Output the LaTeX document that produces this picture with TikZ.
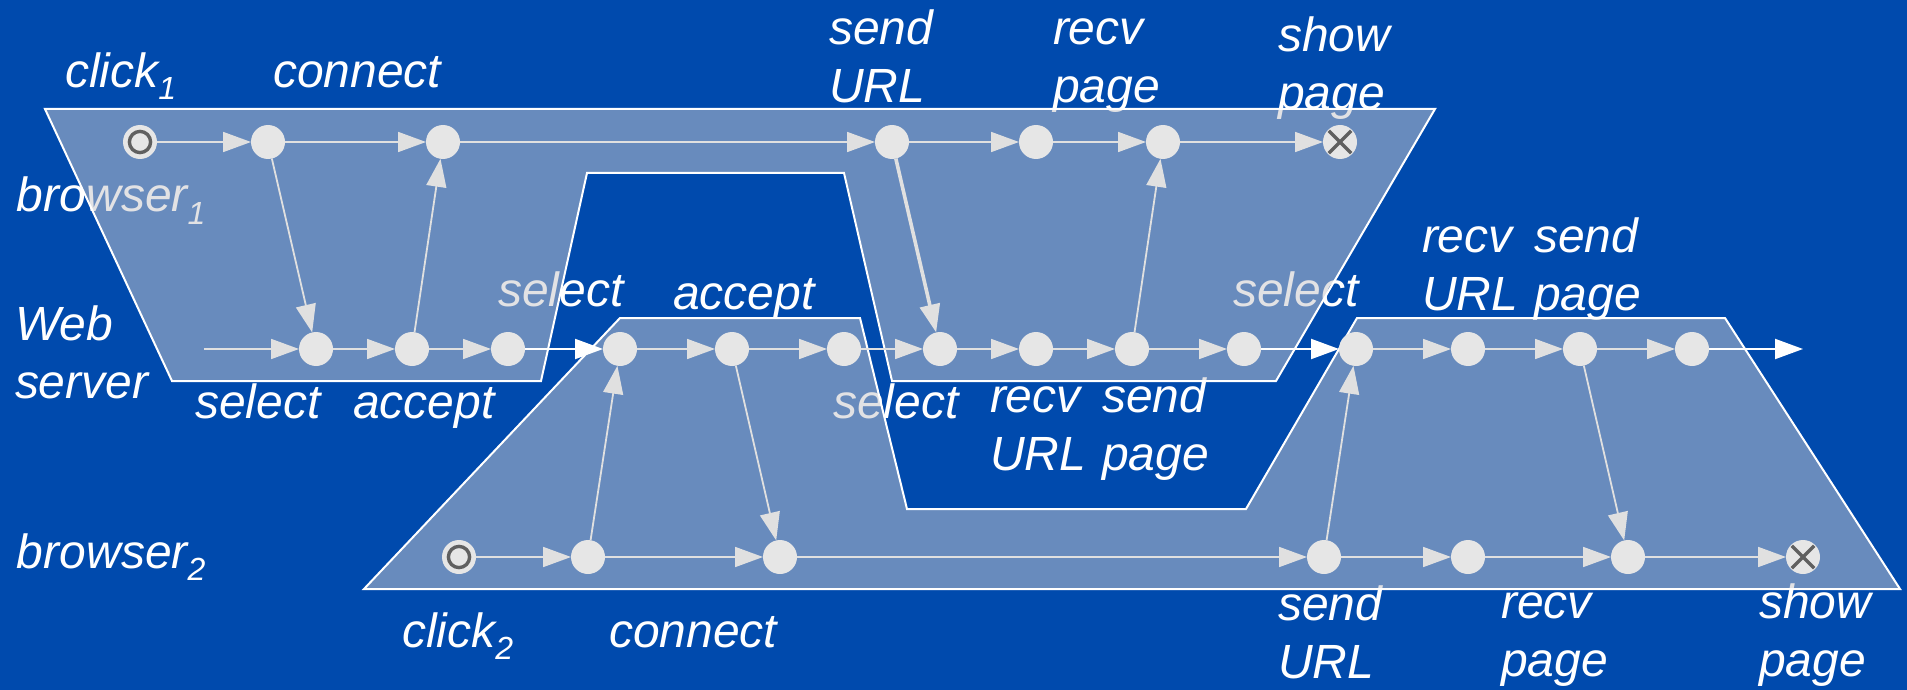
\documentclass[tikz,border=0pt]{standalone}
\usepackage{fontspec}
\setmainfont{Liberation Sans}
\usetikzlibrary{arrows.meta}
\definecolor{bg}{RGB}{0,74,173}
\definecolor{regfill}{RGB}{200,200,205}
\definecolor{nodefill}{RGB}{230,230,230}
\definecolor{edgecol}{RGB}{224,224,224}
\definecolor{markcol}{RGB}{96,96,96}
\newcommand\lowsub[1]{\raisebox{-6pt}{\fontsize{16}{16}\selectfont #1}}
\begin{document}
\begin{tikzpicture}[x=0.5pt,y=-0.5pt,
  lbl/.style={text=white, font=\fontsize{24}{29}\selectfont\itshape, anchor=base west, inner sep=0pt, outer sep=0pt, align=left},
  region/.style={draw=white, line width=1pt, fill=regfill, fill opacity=0.52},
  ev/.style={circle, fill=nodefill, minimum size=17pt, inner sep=0pt, outer sep=0pt},
  startev/.style={ev, path picture={\draw[markcol, line width=1.7pt] (path picture bounding box.center) circle (5.3pt);}},
  endev/.style={ev, path picture={\draw[markcol, line width=1.7pt]
      ([shift={(-5.6pt,-5.6pt)}]path picture bounding box.center) -- ([shift={(5.6pt,5.6pt)}]path picture bounding box.center)
      ([shift={(-5.6pt,5.6pt)}]path picture bounding box.center) -- ([shift={(5.6pt,-5.6pt)}]path picture bounding box.center);}},
  msg/.style={draw=edgecol, line width=0.9pt, -{Triangle[length=14pt,width=10pt]}},
  bigmsg/.style={msg, line width=1.8pt},
  hand/.style={draw=white, line width=1pt, -{Triangle[length=14pt,width=10pt]}}
]
\fill[bg] (0,0) rectangle (1907,690);
\useasboundingbox (0,0) rectangle (1907,690);

% labels (drawn first, regions overlay them); two-line labels placed by their last baseline
\node[lbl] (lclick1) at (65,88) {click\lowsub{1}};
\node[lbl] (lconn1) at (273,88) {connect};
\node[lbl] (lsend1) at (829,103) {send\\URL};
\node[lbl] (lrecv1) at (1053,103) {recv\\page};
\node[lbl] (lshow1) at (1278,110) {show\\page};
\node[lbl] (lb1) at (17,212) {browser\lowsub{1}};
\node[lbl] (lsel1) at (498,306) {select};
\node[lbl] (lacc1) at (673,309) {accept};
\node[lbl] (lsel2) at (1233,306) {select};
\node[lbl] (lrecvurl2) at (1422,310) {recv\\URL};
\node[lbl] (lsendpg2) at (1534,310) {send\\page};
\node[lbl] (lweb) at (15,398) {Web\\server};
\node[lbl] (lsel3) at (195,418) {select};
\node[lbl] (lacc3) at (353,418) {accept};
\node[lbl] (lsel4) at (833,418) {select};
\node[lbl] (lrecvurl1) at (990,470) {recv\\URL};
\node[lbl] (lsendpg1) at (1102,470) {send\\page};
\node[lbl] (lb2) at (17,568) {browser\lowsub{2}};
\node[lbl] (lclick2) at (402,647) {click\lowsub{2}};
\node[lbl] (lconn2) at (609,647) {connect};
\node[lbl] (lsend2) at (1278,678) {send\\URL};
\node[lbl] (lrecv2) at (1501,676) {recv\\page};
\node[lbl] (lshow2) at (1759,676) {show\\page};

% regions
\path[region] (45,109) -- (1435,109) -- (1276,381) -- (892,381) -- (844,173) -- (587,173) -- (541,381) -- (172,381) -- cycle;
\path[region] (620,318) -- (860,318) -- (907,509) -- (1246,509) -- (1357,318) -- (1725,318) -- (1900,589) -- (364,589) -- cycle;

% browser 1 events
\node[startev] (a0) at (140,142) {};
\node[ev] (a1) at (268,142) {};
\node[ev] (a2) at (443,142) {};
\node[ev] (a3) at (892,142) {};
\node[ev] (a4) at (1036,142) {};
\node[ev] (a5) at (1163,142) {};
\node[endev] (a6) at (1340,142) {};

% server events
\coordinate (s0) at (204,349);
\node[ev] (s1) at (316,349) {};
\node[ev] (s2) at (412,349) {};
\node[ev] (s3) at (508,349) {};
\node[ev] (s4) at (620,349) {};
\node[ev] (s5) at (732,349) {};
\node[ev] (s6) at (844,349) {};
\node[ev] (s7) at (940,349) {};
\node[ev] (s8) at (1036,349) {};
\node[ev] (s9) at (1132,349) {};
\node[ev] (s10) at (1244,349) {};
\node[ev] (s11) at (1356,349) {};
\node[ev] (s12) at (1468,349) {};
\node[ev] (s13) at (1580,349) {};
\node[ev] (s14) at (1692,349) {};
\coordinate (s15) at (1803,349);

% browser 2 events
\node[startev] (b0) at (459,557) {};
\node[ev] (b1) at (588,557) {};
\node[ev] (b2) at (780,557) {};
\node[ev] (b3) at (1324,557) {};
\node[ev] (b4) at (1468,557) {};
\node[ev] (b5) at (1628,557) {};
\node[endev] (b6) at (1803,557) {};

% process lines
\foreach \p/\q in {a0/a1,a1/a2,a2/a3,a3/a4,a4/a5,a5/a6,
                   s0/s1,s1/s2,s2/s3,s4/s5,s5/s6,s6/s7,s7/s8,s8/s9,s9/s10,s11/s12,s12/s13,s13/s14,
                   b0/b1,b1/b2,b2/b3,b3/b4,b4/b5,b5/b6}
  \draw[msg] (\p) -- (\q);
\draw[hand] (s3) -- (s4);
\draw[hand] (s10) -- (s11);
\draw[hand] (s14) -- (s15);

% messages
\draw[msg] (a1) -- (s1);
\draw[msg] (s2) -- (a2);
\draw[bigmsg] (a3) -- (s7);
\draw[msg] (s9) -- (a5);
\draw[msg] (b1) -- (s4);
\draw[msg] (s5) -- (b2);
\draw[msg] (b3) -- (s11);
\draw[msg] (s13) -- (b5);
\end{tikzpicture}
\end{document}
